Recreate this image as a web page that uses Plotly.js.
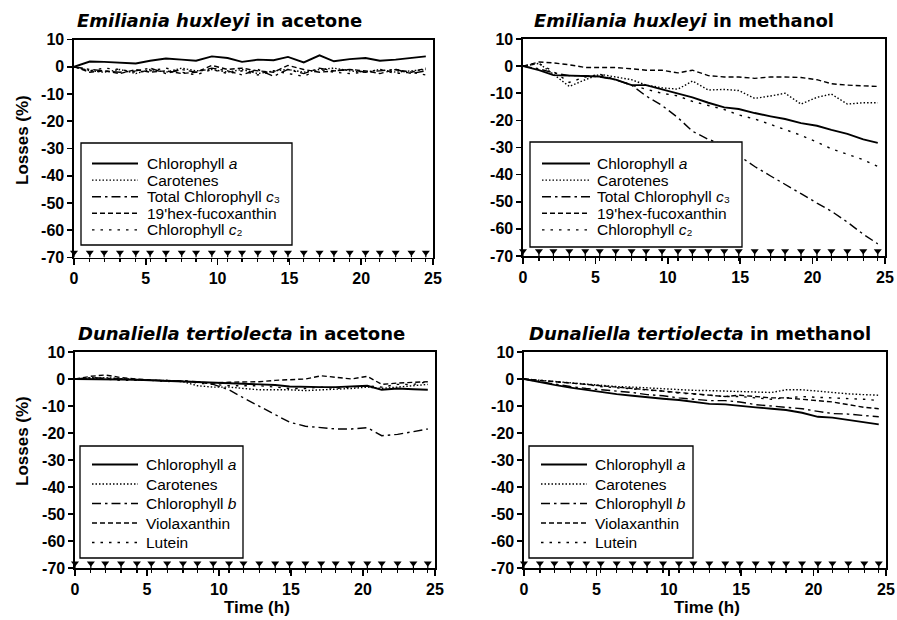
<!DOCTYPE html>
<html>
<head>
<meta charset="utf-8">
<script src="https://cdn.plot.ly/plotly-3.0.1.min.js"></script>
<style>html,body{margin:0;padding:0;background:#fff}#chart{width:897px;height:620px}</style>
</head>
<body>
<div id="chart"></div>
<script>
// ---------- DATA ----------
const hours = [0, 1.1, 2.1, 3.2, 4.3, 5.3, 6.4, 7.5, 8.5, 9.6, 10.7, 11.7, 12.8, 13.9, 14.9, 16.0, 17.1, 18.1, 19.2, 20.3, 21.3, 22.4, 23.5, 24.5];

// Emiliania huxleyi in acetone
const ehAceChlA  = [0, 1.9, 1.8, 1.6, 1.2, 2.2, 3.0, 2.6, 2.2, 3.8, 3.2, 1.8, 2.6, 2.4, 3.6, 1.6, 4.2, 2.0, 2.8, 3.2, 2.2, 2.6, 3.2, 3.8];
const ehAceCarot = [0, -1.5, -2, -1, -2.5, -1, -2, -0.5, -1.5, -1, -2, -1, -2.5, -1.5, -1, -2, -1, -0.5, -1.5, -2, -1, -2, -1.5, -1];
const ehAceChlC3 = [0, -1, -1.5, -2, -1.5, -0.5, -2.5, -1, -2, -0.5, -1.5, -3, -1, -3.5, -1, -2.5, -0.5, -1.5, -1, -2, -1.5, -1, -2.5, -1.5];
const ehAceHex   = [0, -2, -1.5, -2.5, -1, -2, -1.5, -2.5, -2, 0.5, -1, -0.5, -1.5, -2, 0.5, -1, -2, -1.5, -1, -1.5, -2.5, -1, -2, -0.5];
const ehAceChlC2 = [0, -1.5, -0.5, -1, -2, -1.5, -0.5, -2, -3, -1, -2.5, -1.5, -3, -1.5, -2.5, -3.5, -1, -2, -2.5, -2, -1, -2.5, -2, -3];

// Emiliania huxleyi in methanol
const ehMetChlA  = [0, -1.5, -3.3, -3.5, -3.6, -3.8, -5, -7, -7, -8.5, -10, -11.5, -13.5, -15.2, -15.8, -17.3, -18.5, -19.5, -21, -22, -23.5, -25, -27, -28.3];
const ehMetCarot = [0, 1, -3, -7.5, -5, -3, -4, -5, -7, -8, -8.5, -5.5, -8.8, -8.6, -9, -11.9, -11, -10, -14, -11.5, -10.3, -14, -13.5, -13.5];
const ehMetChlC3 = [0, -1, -2.5, -3.5, -3.5, -4, -5, -7, -11, -14.5, -19, -24, -27, -29, -33, -37, -40.5, -43.5, -47, -50.5, -53.5, -57.5, -62, -65.5];
const ehMetHex   = [0, 1.5, 1.2, 0.5, -0.5, -0.5, -0.5, -1, -1.5, -1.5, -2.5, -1.5, -3.5, -4, -4, -4.5, -4, -4, -4.2, -5, -6.5, -7, -7.3, -7.5];
const ehMetChlC2 = [0, 1, -2, -6, -4, -3, -5, -7, -8.5, -10, -11, -13, -14.5, -16, -18, -19.5, -21.5, -23.5, -25.5, -28, -30.5, -32.5, -34.5, -37];

// Dunaliella tertiolecta in acetone
const dtAceChlA   = [0, 0, 0, -0.2, -0.3, -0.5, -0.7, -0.8, -1, -1.3, -1.6, -1.8, -2, -2.2, -2.8, -3, -3, -3, -2.8, -2.5, -4, -3.5, -3.8, -4];
const dtAceCarot  = [0, 0, 0.5, 0, -0.3, -0.5, -0.5, -1, -2.5, -3, -3, -3.5, -4, -4, -4, -4.3, -4, -4, -3.5, -3, -3.5, -3, -2.5, -2];
const dtAceChlB   = [0, 0.5, 0.3, 0, -0.3, -0.5, -0.5, -0.7, -1, -2, -4, -7, -10, -13, -16, -17.5, -18, -18.5, -18.5, -18, -21, -20.5, -19.5, -18.5];
const dtAceViola  = [0, 1, 1.5, 0.5, 0, -0.5, -0.8, -0.8, -1.2, -1.5, -1.2, -1, -1, -0.5, -0.3, 0, 1.2, 0.5, 0, 1, -2, -1.5, -1.2, -1];
const dtAceLutein = [0, 0.5, 0, -0.5, -0.5, -0.5, -1, -0.5, -1.5, -2, -2.5, -2.5, -2.5, -3, -3.5, -3.5, -3, -3.5, -3, -2.5, -3, -2, -2, -1];

// Dunaliella tertiolecta in methanol
const dtMetChlA   = [0, -1.2, -2.2, -3.2, -4, -5, -5.6, -6.2, -6.8, -7.3, -7.8, -8.5, -9.2, -9.4, -9.8, -10.5, -11, -11.5, -12.5, -14, -14.3, -15.2, -16, -16.8];
const dtMetCarot  = [0, -0.5, -1, -1.5, -2, -2.5, -2.8, -3, -3.3, -3.6, -3.9, -4.2, -4.3, -4.5, -4.5, -4.7, -5, -4, -4, -4.5, -5, -5.5, -5.8, -6];
const dtMetChlB   = [0, -1, -1.8, -2.8, -3.5, -4, -4.6, -5, -5.8, -6.2, -7, -7.5, -8, -8, -8.5, -9.5, -10, -10.5, -11, -12, -12.8, -13, -13.5, -14];
const dtMetViola  = [0, -0.5, -1, -1.5, -2, -2.5, -3, -3.5, -4, -4.5, -5, -5.5, -6, -6.5, -6, -6.5, -7, -7, -7.5, -8, -8.5, -9.5, -10.5, -11];
const dtMetLutein = [0, -0.5, -1, -1.5, -2, -2.8, -3.2, -3.8, -4, -4.5, -5.2, -5.5, -6, -6.5, -6.5, -7, -7.5, -7, -6.5, -6.8, -7, -7.3, -7.5, -8];

// sampling-time markers (drawn near the bottom of each panel)
const samplingMarkerLevel = -68.2;

const ehSeriesNames = ["Chlorophyll <i>a</i>", "Carotenes", "Total Chlorophyll <i>c</i>\u2083", "19'hex-fucoxanthin", "Chlorophyll <i>c</i>\u2082"];
const dtSeriesNames = ["Chlorophyll <i>a</i>", "Carotenes", "Chlorophyll <i>b</i>", "Violaxanthin", "Lutein"];
const panelTitles = [
  "<b><i>Emiliania huxleyi</i> in acetone</b>",
  "<b><i>Emiliania huxleyi</i> in methanol</b>",
  "<b><i>Dunaliella tertiolecta</i> in acetone</b>",
  "<b><i>Dunaliella tertiolecta</i> in methanol</b>"
];
const xTickVals = [0, 5, 10, 15, 20, 25];
const xTickText = ["0", "5", "10", "15", "20", "25"];
const yTickVals = [10, 0, -10, -20, -30, -40, -50, -60, -70];
const yTickText = ["10", "0", "-10", "-20", "-30", "-40", "-50", "-60", "-70"];
const yTitle = "Losses (%)";
const xTitle = "Time (h)";

// ---------- LAYOUT / STYLE ----------
const W = 897, H = 620;
const FONT = "Liberation Sans, Arial, Helvetica, sans-serif";
const TITLE_FONT = "DejaVu Sans, Liberation Sans, sans-serif";
const fx = p => p / W;
const fy = p => 1 - p / H;

const dashes = ["solid", "1.5px,2px", "9px,4px,2.5px,4px", "5px,3px", "2.5px,6px"];
const widths = [1.9, 1.4, 1.4, 1.4, 1.4];

const panels = [
  {sfx: "",  series: [ehAceChlA, ehAceCarot, ehAceChlC3, ehAceHex, ehAceChlC2], names: ehSeriesNames,
   xpx: [74, 433], ypx: [39.5, 257.5], titlePx: [75, 33],
   box: [81, 143, 292, 245], row0: 163.5, rowGap: 16.6, lineX: [11, 57], textX: 64},
  {sfx: "2", series: [ehMetChlA, ehMetCarot, ehMetChlC3, ehMetHex, ehMetChlC2], names: ehSeriesNames,
   xpx: [523, 885], ypx: [39, 256], titlePx: [532, 33],
   box: [530, 142, 742, 247], row0: 163.5, rowGap: 16.6, lineX: [12, 60], textX: 65},
  {sfx: "3", series: [dtAceChlA, dtAceCarot, dtAceChlB, dtAceViola, dtAceLutein], names: dtSeriesNames,
   xpx: [75, 435], ypx: [352, 568], titlePx: [76, 346],
   box: [80, 446, 243, 558], row0: 464.5, rowGap: 19.5, lineX: [12, 58], textX: 64},
  {sfx: "4", series: [dtMetChlA, dtMetCarot, dtMetChlB, dtMetViola, dtMetLutein], names: dtSeriesNames,
   xpx: [524, 886], ypx: [352, 568], titlePx: [527, 346],
   box: [529, 446, 693, 558], row0: 464.5, rowGap: 19.5, lineX: [12, 58], textX: 64}
];

const tickFont = {family: FONT, size: 16, color: "black", weight: "bold"};
const traces = [];
const layout = {
  width: W, height: H,
  margin: {l: 0, r: 0, t: 0, b: 0},
  paper_bgcolor: "white", plot_bgcolor: "white",
  showlegend: false,
  font: {family: FONT, color: "black"},
  annotations: [], shapes: []
};

panels.forEach((p, k) => {
  const xa = "x" + p.sfx, ya = "y" + p.sfx;
  p.series.forEach((vals, i) => {
    traces.push({
      x: hours, y: vals, mode: "lines", name: p.names[i],
      xaxis: xa, yaxis: ya, showlegend: false,
      line: {color: "black", width: widths[i], dash: dashes[i]},
      hoverinfo: "skip"
    });
  });
  traces.push({
    x: hours, y: hours.map(() => samplingMarkerLevel), mode: "markers",
    xaxis: xa, yaxis: ya, showlegend: false, cliponaxis: false, hoverinfo: "skip",
    marker: {symbol: "triangle-down", size: 7, color: "black"},
    error_y: {type: "data", symmetric: false, array: hours.map(() => 0),
              arrayminus: hours.map(() => 1.8), width: 0, thickness: 1.2, color: "black"}
  });

  layout["xaxis" + p.sfx] = {
    domain: [fx(p.xpx[0]), fx(p.xpx[1])], anchor: ya, range: [0, 25],
    showline: true, mirror: true, linecolor: "black", linewidth: 1.6,
    ticks: "outside", ticklen: 6, tickwidth: 1.6, tickcolor: "black",
    tickmode: "array", tickvals: xTickVals, ticktext: xTickText,
    minor: {tickmode: "array", tickvals: hours, ticks: "outside", ticklen: 3, tickwidth: 1.2, tickcolor: "black"},
    showgrid: false, zeroline: false, tickfont: tickFont, fixedrange: true
  };
  layout["yaxis" + p.sfx] = {
    domain: [fy(p.ypx[1]), fy(p.ypx[0])], anchor: xa, range: [-70, 10],
    showline: true, mirror: true, linecolor: "black", linewidth: 1.6,
    ticks: "outside", ticklen: 5, tickwidth: 1.6, tickcolor: "black",
    tickmode: "array", tickvals: yTickVals, ticktext: yTickText,
    showgrid: false, zeroline: false, tickfont: tickFont, fixedrange: true
  };

  // panel title
  layout.annotations.push({
    xref: "paper", yref: "paper", x: fx(p.titlePx[0]), y: fy(p.titlePx[1]),
    xanchor: "left", yanchor: "bottom", showarrow: false, text: panelTitles[k],
    font: {family: TITLE_FONT, size: 18, color: "black"}
  });

  // legend box
  const b = p.box;
  layout.shapes.push({type: "rect", xref: "paper", yref: "paper",
    x0: fx(b[0]), x1: fx(b[2]), y0: fy(b[3]), y1: fy(b[1]),
    line: {color: "black", width: 1.3}, fillcolor: "white", layer: "above"});
  p.names.forEach((nm, i) => {
    const yy = p.row0 + i * p.rowGap;
    layout.shapes.push({type: "line", xref: "paper", yref: "paper",
      x0: fx(b[0] + p.lineX[0]), x1: fx(b[0] + p.lineX[1]), y0: fy(yy), y1: fy(yy),
      line: {color: "black", width: widths[i], dash: dashes[i]}, layer: "above"});
    layout.annotations.push({xref: "paper", yref: "paper", x: fx(b[0] + p.textX), y: fy(yy),
      xanchor: "left", yanchor: "middle", showarrow: false, text: nm,
      font: {family: FONT, size: 15.5, color: "black"}});
  });
});

// axis titles
[[22, 140], [22, 441]].forEach(c => layout.annotations.push({
  xref: "paper", yref: "paper", x: fx(c[0]), y: fy(c[1]), xanchor: "center", yanchor: "middle",
  textangle: -90, showarrow: false, text: "<b>" + yTitle + "</b>", font: {family: FONT, size: 17, color: "black"}
}));
[[257, 619], [707, 619]].forEach(c => layout.annotations.push({
  xref: "paper", yref: "paper", x: fx(c[0]), y: fy(c[1]), xanchor: "center", yanchor: "bottom",
  showarrow: false, text: "<b>" + xTitle + "</b>", font: {family: FONT, size: 17, color: "black"}
}));

Plotly.newPlot("chart", traces, layout, {staticPlot: true, displayModeBar: false});
</script>
</body>
</html>
